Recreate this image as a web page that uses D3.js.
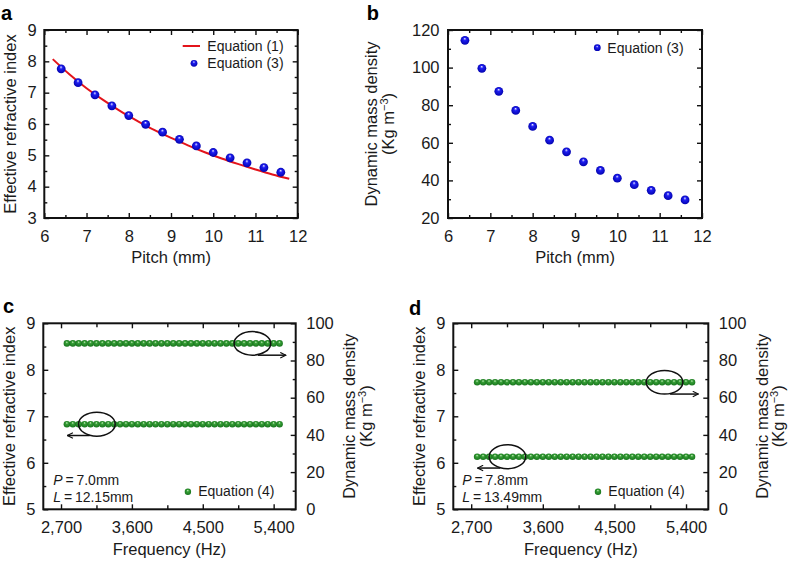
<!DOCTYPE html>
<html>
<head>
<meta charset="utf-8">
<script src="https://cdn.jsdelivr.net/npm/d3@7"></script>
<style>
  body { margin: 0; background: #fff; }
  svg { display: block; font-family: "Liberation Sans", Arial, sans-serif; }
  .frame { fill: none; stroke: #111; stroke-width: 2px; }
  .tick line { stroke: #111; stroke-width: 1.4px; }
  .ticklab text { font-size: 16.5px; fill: #1a1a1a; }
  .title { font-size: 16.5px; fill: #1a1a1a; }
  .legend { font-size: 14px; fill: #1a1a1a; }
  .letter { font-size: 20px; font-weight: bold; fill: #000; }
  .note { fill: none; stroke: #111; stroke-width: 1.5px; }
</style>
</head>
<body>
<script>

// ---- data ----

// panels a, b : pitch sweep
var pitch = [6.4, 6.8, 7.2, 7.6, 8.0, 8.4, 8.8, 9.2, 9.6, 10.0, 10.4, 10.8, 11.2, 11.6];
var indexEq3 = [7.76, 7.32, 6.93, 6.58, 6.27, 5.99, 5.74, 5.51, 5.30, 5.09, 4.92, 4.76, 4.61, 4.46];
var densityEq3 = [114.5, 99.6, 87.4, 77.2, 68.7, 61.4, 55.2, 49.9, 45.3, 41.2, 37.7, 34.7, 31.9, 29.6];

// red curve, Equation (1)
var pitchLine = [6.2, 6.6, 7.0, 7.4, 7.8, 8.2, 8.6, 9.0, 9.4, 9.8, 10.2, 10.6, 11.0, 11.4, 11.8];
var indexEq1 = [8.07, 7.58, 7.14, 6.76, 6.41, 6.10, 5.81, 5.56, 5.32, 5.10, 4.90, 4.72, 4.55, 4.39, 4.25];

// panels c, d : frequency sweep
var freq = [2775, 2850, 2925, 3000, 3075, 3150, 3225, 3300, 3375, 3450, 3525, 3600, 3675,
            3750, 3825, 3900, 3975, 4050, 4125, 4200, 4275, 4350, 4425, 4500, 4575, 4650,
            4725, 4800, 4875, 4950, 5025, 5100, 5175, 5250, 5325, 5400, 5475];
var cIndex = [6.83, 6.83, 6.83, 6.83, 6.83, 6.83, 6.83, 6.83, 6.83, 6.83, 6.83, 6.83, 6.83,
              6.83, 6.83, 6.83, 6.83, 6.83, 6.83, 6.83, 6.83, 6.83, 6.83, 6.83, 6.83, 6.83,
              6.83, 6.83, 6.83, 6.83, 6.83, 6.83, 6.83, 6.83, 6.83, 6.83, 6.83];
var cDensity = [89.2, 89.2, 89.2, 89.2, 89.2, 89.2, 89.2, 89.2, 89.2, 89.2, 89.2, 89.2, 89.2,
                89.2, 89.2, 89.2, 89.2, 89.2, 89.2, 89.2, 89.2, 89.2, 89.2, 89.2, 89.2, 89.2,
                89.2, 89.2, 89.2, 89.2, 89.2, 89.2, 89.2, 89.2, 89.2, 89.2, 89.2];
var dIndex = [6.13, 6.13, 6.13, 6.13, 6.13, 6.13, 6.13, 6.13, 6.13, 6.13, 6.13, 6.13, 6.13,
              6.13, 6.13, 6.13, 6.13, 6.13, 6.13, 6.13, 6.13, 6.13, 6.13, 6.13, 6.13, 6.13,
              6.13, 6.13, 6.13, 6.13, 6.13, 6.13, 6.13, 6.13, 6.13, 6.13, 6.13];
var dDensity = [68.3, 68.3, 68.3, 68.3, 68.3, 68.3, 68.3, 68.3, 68.3, 68.3, 68.3, 68.3, 68.3,
                68.3, 68.3, 68.3, 68.3, 68.3, 68.3, 68.3, 68.3, 68.3, 68.3, 68.3, 68.3, 68.3,
                68.3, 68.3, 68.3, 68.3, 68.3, 68.3, 68.3, 68.3, 68.3, 68.3, 68.3];

// tick labels
var pitchTicks = [6, 7, 8, 9, 10, 11, 12];
var indexTicksAB = [3, 4, 5, 6, 7, 8, 9];
var densityTicksB = [20, 40, 60, 80, 100, 120];
var freqTicks = [2700, 3600, 4500, 5400];
var indexTicksCD = [5, 6, 7, 8, 9];
var densityTicksCD = [0, 20, 40, 60, 80, 100];

// ---- drawing ----

var svg = d3.select("body").append("svg")
    .attr("width", 788)
    .attr("height", 562);

var defs = svg.append("defs");

function sphereGrad(id, light, mid, dark) {
  var g = defs.append("radialGradient")
      .attr("id", id)
      .attr("cx", "50%").attr("cy", "50%").attr("r", "55%")
      .attr("fx", "48%").attr("fy", "28%");
  g.append("stop").attr("offset", "0%").attr("stop-color", light);
  g.append("stop").attr("offset", "32%").attr("stop-color", mid);
  g.append("stop").attr("offset", "100%").attr("stop-color", dark);
}
sphereGrad("blueBall", "#e8e8ff", "#1e1ef2", "#0000a8");
sphereGrad("greenBall", "#d9f3cf", "#37a037", "#15701a");

defs.append("marker")
    .attr("id", "arrow")
    .attr("viewBox", "0 0 10 10")
    .attr("refX", 9).attr("refY", 5)
    .attr("markerWidth", 7).attr("markerHeight", 7)
    .attr("markerUnits", "userSpaceOnUse")
    .attr("orient", "auto")
  .append("path")
    .attr("d", "M1,1 L9,5 L1,9")
    .attr("fill", "none")
    .attr("stroke", "#111")
    .attr("stroke-width", 1.6);

// inward ticks on one side of the frame
function ticks(g, axisFn, scale, values, len, tr) {
  g.append("g")
      .attr("transform", tr)
      .call(axisFn(scale).tickValues(values).tickSize(-len).tickFormat(""))
      .call(function(s) { s.select(".domain").remove(); });
}

function labels(g, axisFn, scale, values, pad, fmt, tr) {
  g.append("g")
      .attr("class", "ticklab")
      .attr("transform", tr)
      .call(axisFn(scale).tickValues(values).tickSize(0).tickPadding(pad).tickFormat(fmt))
      .call(function(s) { s.select(".domain").remove(); });
}

function minorOf(lo, hi, step, major) {
  var out = [];
  for (var v = lo; v <= hi + 1e-9; v += step) {
    var r = Math.round(v * 1000) / 1000;
    if (major.indexOf(r) < 0) out.push(r);
  }
  return out;
}

function frame(g, w, h) {
  g.append("rect").attr("class", "frame")
      .attr("x", 0).attr("y", 0).attr("width", w).attr("height", h);
}

function yTitle(x, y, lines) {
  var t = svg.append("text").attr("class", "title")
      .attr("text-anchor", "middle")
      .attr("transform", "translate(" + x + "," + y + ") rotate(-90)");
  t.text(lines);
  return t;
}

function densityTitle(x1, x2, y) {
  yTitle(x1, y, "Dynamic mass density");
  var t = svg.append("text").attr("class", "title")
      .attr("text-anchor", "middle")
      .attr("transform", "translate(" + x2 + "," + y + ") rotate(-90)");
  t.append("tspan").text("(Kg m");
  t.append("tspan").attr("dy", -6).attr("font-size", "11px").text("\u22123");
  t.append("tspan").attr("dy", 6).text(")");
}

function balls(g, xs, ys, x, y, r, fill) {
  g.selectAll(null)
    .data(xs.map(function(d, i) { return [d, ys[i]]; }))
    .enter().append("circle")
      .attr("cx", function(d) { return x(d[0]); })
      .attr("cy", function(d) { return y(d[1]); })
      .attr("r", r)
      .attr("fill", fill);
}

/* panel a */
(function() {
  var L = 44.3, T = 30, W = 253.4, H = 188;
  var g = svg.append("g").attr("transform", "translate(" + L + "," + T + ")");
  var x = d3.scaleLinear().domain([6, 12]).range([0, W]);
  var y = d3.scaleLinear().domain([3, 9]).range([H, 0]);
  var xMin = minorOf(6, 12, 0.5, pitchTicks), yMin = minorOf(3, 9, 0.5, indexTicksAB);

  ticks(g, d3.axisBottom, x, pitchTicks, 5, "translate(0," + H + ")");
  ticks(g, d3.axisBottom, x, xMin, 3, "translate(0," + H + ")");
  ticks(g, d3.axisTop, x, pitchTicks, 5, "translate(0,0)");
  ticks(g, d3.axisTop, x, xMin, 3, "translate(0,0)");
  ticks(g, d3.axisLeft, y, indexTicksAB, 5, "translate(0,0)");
  ticks(g, d3.axisLeft, y, yMin, 3, "translate(0,0)");
  ticks(g, d3.axisRight, y, indexTicksAB, 5, "translate(" + W + ",0)");
  ticks(g, d3.axisRight, y, yMin, 3, "translate(" + W + ",0)");
  labels(g, d3.axisBottom, x, pitchTicks, 12.3, d3.format("d"), "translate(0," + H + ")");
  labels(g, d3.axisLeft, y, indexTicksAB, 7.6, d3.format("d"), "translate(0,0)");

  var line = d3.line()
      .x(function(d) { return x(d[0]); })
      .y(function(d) { return y(d[1]); })
      .curve(d3.curveCatmullRom);
  g.append("path")
      .datum(pitchLine.map(function(d, i) { return [d, indexEq1[i]]; }))
      .attr("d", line)
      .attr("fill", "none")
      .attr("stroke", "#e3141b")
      .attr("stroke-width", 2);

  balls(g, pitch, indexEq3, x, y, 4.4, "url(#blueBall)");
  frame(g, W, H);

  // legend
  g.append("line").attr("x1", 138.4).attr("x2", 155.7).attr("y1", 16).attr("y2", 16)
      .attr("stroke", "#e3141b").attr("stroke-width", 2);
  g.append("text").attr("class", "legend").attr("x", 163).attr("y", 21).text("Equation (1)");
  g.append("circle").attr("cx", 149.7).attr("cy", 33.3).attr("r", 3.4).attr("fill", "url(#blueBall)");
  g.append("text").attr("class", "legend").attr("x", 163).attr("y", 38.3).text("Equation (3)");

  yTitle(16, T + H / 2, "Effective refractive index");
  svg.append("text").attr("class", "title").attr("text-anchor", "middle")
      .attr("x", L + W / 2).attr("y", 263).text("Pitch (mm)");
  svg.append("text").attr("class", "letter").attr("x", 1).attr("y", 20).text("a");
})();

/* panel b */
(function() {
  var L = 448, T = 30, W = 254, H = 188;
  var g = svg.append("g").attr("transform", "translate(" + L + "," + T + ")");
  var x = d3.scaleLinear().domain([6, 12]).range([0, W]);
  var y = d3.scaleLinear().domain([20, 120]).range([H, 0]);
  var xMin = minorOf(6, 12, 0.5, pitchTicks), yMin = minorOf(20, 120, 10, densityTicksB);

  ticks(g, d3.axisBottom, x, pitchTicks, 5, "translate(0," + H + ")");
  ticks(g, d3.axisBottom, x, xMin, 3, "translate(0," + H + ")");
  ticks(g, d3.axisTop, x, pitchTicks, 5, "translate(0,0)");
  ticks(g, d3.axisTop, x, xMin, 3, "translate(0,0)");
  ticks(g, d3.axisLeft, y, densityTicksB, 5, "translate(0,0)");
  ticks(g, d3.axisLeft, y, yMin, 3, "translate(0,0)");
  ticks(g, d3.axisRight, y, densityTicksB, 5, "translate(" + W + ",0)");
  ticks(g, d3.axisRight, y, yMin, 3, "translate(" + W + ",0)");
  labels(g, d3.axisBottom, x, pitchTicks, 12.3, d3.format("d"), "translate(0," + H + ")");
  labels(g, d3.axisLeft, y, densityTicksB, 8.5, d3.format("d"), "translate(0,0)");

  balls(g, pitch, densityEq3, x, y, 4.4, "url(#blueBall)");
  frame(g, W, H);

  g.append("circle").attr("cx", 149.3).attr("cy", 17.7).attr("r", 3.4).attr("fill", "url(#blueBall)");
  g.append("text").attr("class", "legend").attr("x", 159.3).attr("y", 23).text("Equation (3)");

  densityTitle(376.7, 393.5, T + H / 2);
  svg.append("text").attr("class", "title").attr("text-anchor", "middle")
      .attr("x", L + W / 2).attr("y", 263).text("Pitch (mm)");
  svg.append("text").attr("class", "letter").attr("x", 366.7).attr("y", 20).text("b");
})();

/* panels c and d */
function freqPanel(o) {
  var T = 323.3, H = 186;
  var g = svg.append("g").attr("transform", "translate(" + o.L + "," + T + ")");
  var x = d3.scaleLinear().domain([2475, 5680]).range([0, o.W]);
  var yl = d3.scaleLinear().domain([5, 9]).range([H, 0]);
  var yr = d3.scaleLinear().domain([0, 100]).range([H, 0]);
  var xMin = [3150, 4050, 4950];
  var ylMin = minorOf(5, 9, 0.5, indexTicksCD), yrMin = minorOf(0, 100, 10, densityTicksCD);

  ticks(g, d3.axisBottom, x, freqTicks, 5, "translate(0," + H + ")");
  ticks(g, d3.axisBottom, x, xMin, 4, "translate(0," + H + ")");
  ticks(g, d3.axisTop, x, freqTicks, 5, "translate(0,0)");
  ticks(g, d3.axisTop, x, xMin, 4, "translate(0,0)");
  ticks(g, d3.axisLeft, yl, indexTicksCD, 5, "translate(0,0)");
  ticks(g, d3.axisLeft, yl, ylMin, 3, "translate(0,0)");
  ticks(g, d3.axisRight, yr, densityTicksCD, 5, "translate(" + o.W + ",0)");
  ticks(g, d3.axisRight, yr, yrMin, 3, "translate(" + o.W + ",0)");
  labels(g, d3.axisBottom, x, freqTicks, 12.3, d3.format(","), "translate(0," + H + ")");
  labels(g, d3.axisLeft, yl, indexTicksCD, 7.8, d3.format("d"), "translate(0,0)");
  labels(g, d3.axisRight, yr, densityTicksCD, 10.5, d3.format("d"), "translate(" + o.W + ",0)");

  balls(g, freq, o.index, x, yl, 3.3, "url(#greenBall)");
  balls(g, freq, o.density, x, yr, 3.3, "url(#greenBall)");

  // ellipses + arrows pointing at the axis each row belongs to
  var yTop = yr(o.density[0]), yBot = yl(o.index[0]);
  g.append("ellipse").attr("class", "note")
      .attr("cx", x(5130)).attr("cy", yTop).attr("rx", 18.3).attr("ry", 11.8);
  g.append("line").attr("class", "note")
      .attr("x1", x(5200)).attr("x2", x(5555)).attr("y1", yTop + 11.8).attr("y2", yTop + 11.8)
      .attr("marker-end", "url(#arrow)");
  g.append("ellipse").attr("class", "note")
      .attr("cx", x(3155)).attr("cy", yBot).attr("rx", 18.3).attr("ry", 12);
  g.append("line").attr("class", "note")
      .attr("x1", x(3065)).attr("x2", x(2780)).attr("y1", yBot + 11.3).attr("y2", yBot + 11.3)
      .attr("marker-end", "url(#arrow)");

  frame(g, o.W, H);

  // legend + parameters
  g.append("circle").attr("cx", o.legX).attr("cy", 168.4).attr("r", 3.2).attr("fill", "url(#greenBall)");
  g.append("text").attr("class", "legend").attr("x", o.legX + 10.3).attr("y", 173).text("Equation (4)");
  var p = g.append("text").attr("class", "legend").attr("x", o.parX).attr("y", 161.7);
  p.append("tspan").attr("font-style", "italic").text("P");
  p.append("tspan").text("\u2009=\u2009" + o.P);
  var l = g.append("text").attr("class", "legend").attr("x", o.parX).attr("y", 178.4);
  l.append("tspan").attr("font-style", "italic").text("L");
  l.append("tspan").text("\u2009=\u2009" + o.Lval);

  yTitle(o.L - 28.3, T + H / 2, "Effective refractive index");
  densityTitle(o.L + o.W + 59.5, o.L + o.W + 76, T + H / 2);
  svg.append("text").attr("class", "title").attr("text-anchor", "middle")
      .attr("x", o.L + o.W / 2).attr("y", 555).text("Frequency (Hz)");
  svg.append("text").attr("class", "letter").attr("x", o.letX).attr("y", o.letY).text(o.letter);
}

freqPanel({ L: 43.3, W: 252.4, index: cIndex, density: cDensity, legX: 144.6, parX: 10,
            P: "7.0mm", Lval: "12.15mm", letter: "c", letX: 3, letY: 313 });
freqPanel({ L: 453.3, W: 255, index: dIndex, density: dDensity, legX: 144.7, parX: 9,
            P: "7.8mm", Lval: "13.49mm", letter: "d", letX: 409, letY: 315 });

</script>
</body>
</html>
